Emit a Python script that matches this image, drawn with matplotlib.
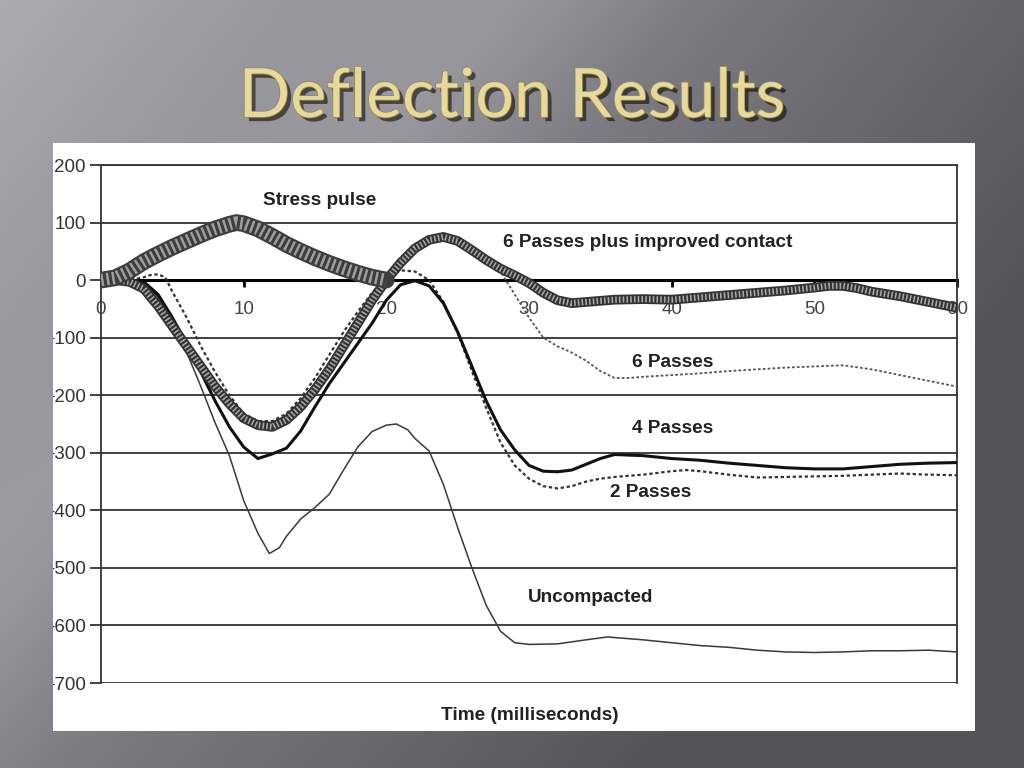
import numpy as np
import matplotlib
matplotlib.use("Agg")
import matplotlib.pyplot as plt
from matplotlib.patches import Rectangle
import matplotlib.patheffects as pe

plt.rcParams['font.family'] = ['Liberation Sans', 'DejaVu Sans']
plt.rcParams['axes.unicode_minus'] = False

# ---- data (time in ms, deflection) ----
t_stress = [0, 1, 2, 3, 4, 5, 6, 7, 8, 9, 9.5, 10, 11, 12, 13, 14, 15, 16, 17, 18, 19, 20]
y_stress = [0, 4, 16, 32, 45, 57, 68, 79, 89, 97, 100, 98, 89, 76, 62, 50, 39, 29, 20, 12, 5, 0]

t_contact = [0, 1, 2, 3, 4, 5, 6, 7, 8, 9, 10, 11, 12, 13, 14, 15, 16, 17, 18, 19, 20,
             21, 22, 23, 24, 25, 26, 27, 28, 29, 30, 31, 32, 33, 34, 35, 36, 38, 40,
             42, 44, 46, 48, 50, 51, 52, 53, 54, 56, 58, 60]
y_contact = [0, 0, -3, -15, -45, -80, -115, -150, -185, -215, -240, -252, -255, -243, -220,
             -190, -155, -115, -75, -35, 0, 30, 55, 70, 75, 68, 52, 35, 20, 8, -5, -22, -35,
             -40, -38, -36, -34, -33, -34, -30, -26, -22, -18, -13, -10, -10, -14, -20, -28,
             -38, -48]

t_six = [0, 2, 3, 4, 5, 6, 7, 8, 9, 10, 11, 12, 13, 14, 15, 16, 17, 18, 19, 20, 21, 22,
         23, 24, 25, 26, 27, 28, 29, 30, 31, 32, 33, 34, 35, 36, 37, 38, 40, 42, 44, 46,
         48, 50, 52, 54, 56, 58, 60]
y_six = [0, 0, -10, -40, -75, -110, -148, -183, -213, -237, -250, -250, -238, -212, -180,
         -143, -103, -63, -25, 8, 38, 60, 72, 75, 68, 55, 38, 15, -25, -65, -100, -115,
         -126, -140, -158, -170, -170, -168, -165, -162, -158, -155, -152, -150, -148,
         -155, -165, -175, -185]

t_four = [0, 2, 3, 4, 5, 6, 7, 8, 9, 10, 11, 12, 13, 14, 15, 16, 17, 18, 19, 20, 21, 22,
          23, 24, 25, 26, 27, 28, 29, 30, 31, 32, 33, 34, 35, 36, 38, 40, 42, 44, 46, 48,
          50, 52, 54, 56, 58, 60]
y_four = [0, 0, -3, -25, -65, -110, -160, -210, -255, -290, -310, -302, -292, -262, -220,
          -180, -145, -110, -75, -35, -8, -1, -10, -40, -90, -150, -210, -260, -295, -322,
          -332, -333, -330, -320, -310, -303, -305, -310, -313, -318, -322, -326, -328,
          -328, -324, -320, -318, -317]

t_two = [0, 2, 3, 3.5, 4, 4.5, 5, 6, 7, 8, 9, 10, 11, 12, 13, 14, 15, 16, 17, 18, 19, 20,
         21, 22, 23, 24, 25, 26, 27, 28, 29, 30, 31, 32, 33, 34, 35, 36, 38, 40, 41, 42,
         44, 46, 48, 50, 52, 54, 56, 58, 60]
y_two = [0, 0, 5, 9, 10, 5, -20, -65, -115, -160, -200, -232, -245, -245, -232, -205, -170,
         -130, -90, -55, -22, 5, 17, 15, 0, -38, -92, -158, -222, -282, -322, -345, -358,
         -362, -358, -350, -345, -342, -338, -332, -330, -332, -338, -343, -342, -341, -340,
         -338, -336, -338, -339]

t_unc = [0, 2, 3, 4, 5, 6, 7, 8, 9, 10, 11, 11.8, 12.5, 13, 14, 15, 16, 17, 18, 19, 20,
         20.7, 21.5, 22, 23, 24, 25, 26, 27, 28, 29, 30, 32, 34, 35.5, 38, 40, 42, 44, 46,
         48, 50, 52, 54, 56, 58, 60]
y_unc = [0, 0, -3, -30, -75, -125, -185, -248, -305, -383, -440, -475, -465, -445, -415,
         -395, -372, -330, -290, -263, -252, -250, -260, -275, -297, -355, -430, -500, -565,
         -610, -630, -633, -632, -625, -620, -625, -630, -635, -638, -643, -646, -647, -646,
         -644, -644, -643, -646]

y_ticks = list(range(-700, 201, 100))
x_ticks = list(range(0, 61, 10))

W, H = 1024, 768
fig = plt.figure(figsize=(W / 100, H / 100), dpi=100)

# slide background
bg = fig.add_axes([0, 0, 1, 1], zorder=-10)
xx, yy = np.meshgrid(np.arange(W), np.arange(H))
v = 172 - 95 * (0.75 * xx / W + 0.45 * yy / H)
band = 14 * np.exp(-((xx / W * 0.9 + yy / H * 0.6 - 0.45) / 0.12) ** 2)
v = np.clip(v + band, 84, 200)
img = np.dstack([v, v - 1, v + 5]) / 255.0
bg.imshow(np.clip(img, 0, 1), aspect='auto', extent=[0, 1, 0, 1])
bg.set_axis_off()

# white chart box
fig.patches.append(Rectangle((53 / W, 1 - 731 / H), 922 / W, 588 / H,
                             transform=fig.transFigure, facecolor='white',
                             edgecolor='none', zorder=-5))

title = fig.text(512 / W, 1 - 98 / H, "Deflection Results", ha='center', va='center',
                 fontsize=49, family=['Lato', 'DejaVu Sans'], color='#e6d99c')
title.set_path_effects([pe.withSimplePatchShadow(offset=(3, -3), shadow_rgbFace='black',
                                                 alpha=0.55),
                        pe.Stroke(linewidth=1.2, foreground='#9a8a4c'), pe.Normal()])

ax = fig.add_axes([101 / W, 1 - 683 / H, 856 / W, 518 / H])
ax.set_facecolor('none')
ax.set_xlim(0, 60)
ax.set_ylim(-700, 200)

ax.plot(t_unc, y_unc, color='#3a3a3a', lw=1.1, zorder=3)
ax.plot(t_six, y_six, color='#555555', lw=1.3, ls=(0, (1.5, 1.2)), zorder=3)
ax.plot(t_two, y_two, color='#333333', lw=1.6, ls=(0, (1.5, 1.2)), zorder=3)
ax.plot(t_four, y_four, color='#111111', lw=2.2, zorder=4)

# thick marker bands
ax.plot(t_contact, y_contact, color='#333333', lw=7, solid_capstyle='round', zorder=5)
ax.plot(t_contact, y_contact, color='#a8a8a8', lw=4.5, ls=(0, (0.25, 0.35)), zorder=5)
ax.plot(t_stress, y_stress, color='#3d3d3d', lw=12, solid_capstyle='round', zorder=6)
ax.plot(t_stress, y_stress, color='#9e9e9e', lw=9, ls=(0, (0.2, 0.25)), zorder=6)

ax.set_yticks(y_ticks)
ax.set_xticks(x_ticks)
ax.yaxis.grid(True, color='#333333', lw=1.3)
ax.set_axisbelow(True)

for s in ['left', 'right', 'top']:
    ax.spines[s].set_color('#333333')
    ax.spines[s].set_linewidth(1.3)
ax.spines['bottom'].set_position(('data', 0))
ax.spines['bottom'].set_linewidth(2.2)
ax.spines['bottom'].set_color('black')
ax.spines['bottom'].set_zorder(2)

ax.tick_params(axis='y', direction='out', length=8, width=1.3, color='#333333',
               labelsize=13.5, labelcolor='#333333', pad=3)
ax.tick_params(axis='x', direction='out', length=5, width=2, color='black',
               labelsize=13.5, labelcolor='#444444', pad=10)

clip = Rectangle((53 / W, 0), 1, 1, transform=fig.transFigure, facecolor='none')
for lbl in ax.get_yticklabels():
    lbl.set_clip_path(clip)

lab = dict(fontsize=13.7, fontweight='bold', color='#222222', va='center', zorder=7)
ax.text(11.35, 139, "Stress pulse", **lab)
ax.text(28.2, 66, "6 Passes plus improved contact", **lab)
ax.text(37.2, -143, "6 Passes", **lab)
ax.text(37.2, -257, "4 Passes", **lab)
ax.text(35.7, -369, "2 Passes", **lab)
ax.text(29.9, -551, "Uncompacted", **lab)

fig.text(530 / W, 1 - 716 / H, "Time (milliseconds)", ha='center', va='center',
         fontsize=13.7, fontweight='bold', color='#222222')

fig.savefig("out.png", dpi=100)
